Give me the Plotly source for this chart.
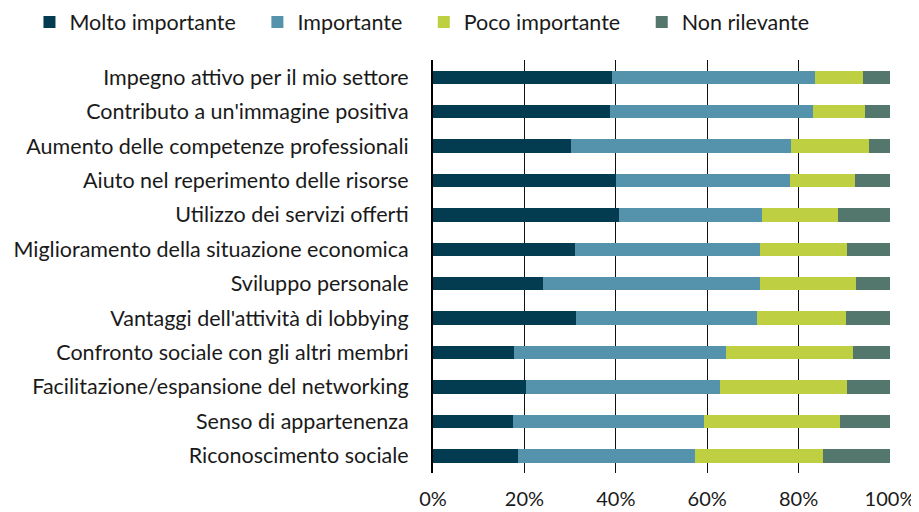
import plotly.graph_objects as go

categories = [
    "Impegno attivo per il mio settore",
    "Contributo a un'immagine positiva",
    "Aumento delle competenze professionali",
    "Aiuto nel reperimento delle risorse",
    "Utilizzo dei servizi offerti",
    "Miglioramento della situazione economica",
    "Sviluppo personale",
    "Vantaggi dell'attività di lobbying",
    "Confronto sociale con gli altri membri",
    "Facilitazione/espansione del networking",
    "Senso di appartenenza",
    "Riconoscimento sociale",
]
molto_importante = [39.2, 38.7, 30.2, 40.0, 40.7, 31.1, 24.0, 31.3, 17.7, 20.3, 17.6, 18.6]
importante = [44.4, 44.4, 48.1, 38.1, 31.3, 40.5, 47.5, 39.7, 46.4, 42.5, 41.7, 38.8]
poco_importante = [10.6, 11.5, 17.0, 14.2, 16.6, 19.0, 21.0, 19.4, 27.7, 27.8, 29.7, 27.9]
non_rilevante = [5.8, 5.4, 4.7, 7.7, 11.4, 9.4, 7.5, 9.6, 8.2, 9.4, 11.0, 14.7]
tick_vals = [0, 0.2, 0.4, 0.6, 0.8, 1.0]

series = [
    ("Molto importante", molto_importante, "#033B51"),
    ("Importante", importante, "#5593AC"),
    ("Poco importante", poco_importante, "#BECF42"),
    ("Non rilevante", non_rilevante, "#53766D"),
]

FONT = "Lato"
PAD = "\u00a0" * 3
fig = go.Figure()
for name, vals, color in series:
    fig.add_trace(go.Bar(
        y=categories, x=[v / 100 for v in vals], name=name + PAD, orientation="h",
        marker=dict(color=color, line=dict(width=0)),
        hovertemplate="%{y}: %{x:.0%}<extra>" + name + "</extra>",
    ))

# page body has an 8px margin: figure is sized to fit the 919x512 window
fig.update_layout(
    barmode="stack",
    bargap=0.61,
    width=911, height=504,
    margin=dict(l=425, r=29, t=52, b=39, autoexpand=False),
    paper_bgcolor="white", plot_bgcolor="white",
    font=dict(family=FONT, size=21.5, color="#1a1a1a"),
    legend=dict(orientation="h", x=-0.883, xanchor="left", y=1.092, yanchor="middle",
                font=dict(size=21.5), traceorder="normal", itemwidth=30),
    xaxis=dict(range=[0, 1], tickvals=tick_vals, tickformat=".0%",
               showgrid=True, gridcolor="#111111", gridwidth=1, automargin=False,
               zeroline=False, showline=False, ticks="", ticklabelstandoff=12,
               tickfont=dict(size=20)),
    yaxis=dict(categoryorder="array", categoryarray=categories, autorange="reversed",
               showgrid=False, zeroline=False, showline=True, linecolor="black", linewidth=2,
               automargin=False,
               ticks="", ticklabelstandoff=18, tickfont=dict(size=21.5)),
)
fig.write_html("out.html")
